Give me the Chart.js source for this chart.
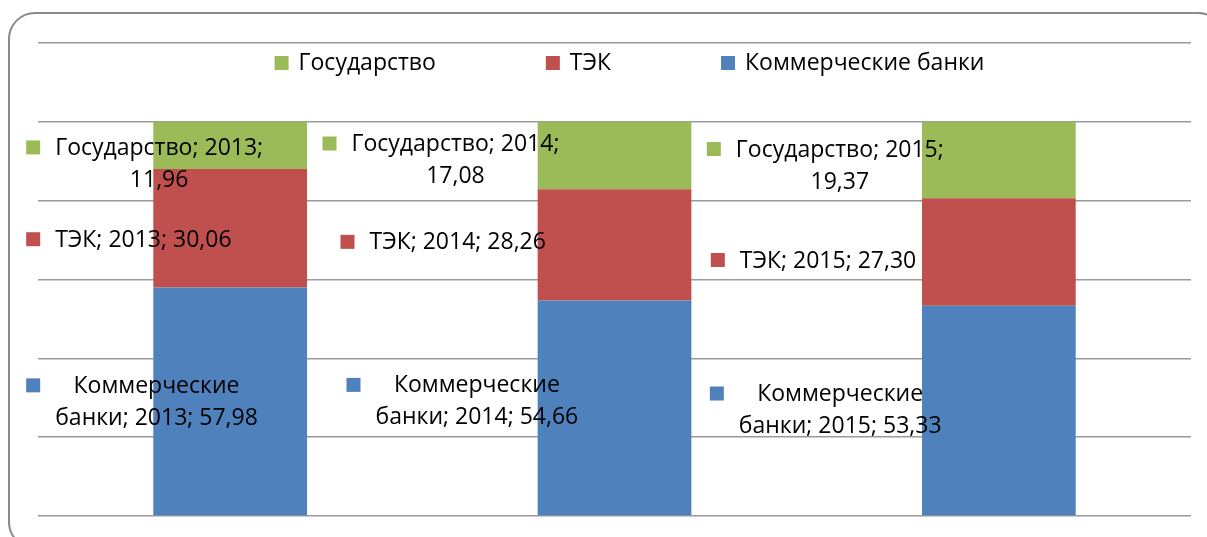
<!DOCTYPE html>
<html>
<head>
<meta charset="utf-8">
<script src="https://cdn.jsdelivr.net/npm/chart.js@4.4.0/dist/chart.umd.min.js"></script>
<style>
  body { margin: 0; background: #fff; }
  #wrap { width: 1207px; height: 537px; position: relative; }
</style>
</head>
<body>
<div id="wrap"><canvas id="mycanvas"></canvas></div>
<script>
var years = ["2013", "2014", "2015"];
var banks = [57.98, 54.66, 53.33];
var tek = [30.06, 28.26, 27.30];
var state = [11.96, 17.08, 19.37];

// where excel left the data labels: key box offset from bar centre / segment middle
var labelDx = [[-204, -268, -289], [-204, -274, -288], [-204, -292, -292]];
var labelDy = [[-16, -23, -17], [11, -3, 8], [2, -12, -11]];

var FONT = "23px 'Open Sans'";

function fmt(v) {
  return v.toFixed(2).replace(".", ",");
}

var frame = {
  id: "frame",
  beforeDraw: function(chart) {
    var c = chart.ctx;
    c.save();
    c.fillStyle = "#fff";
    c.fillRect(0, 0, chart.width, chart.height);
    c.strokeStyle = "#8a8a8a";
    c.lineWidth = 2;
    c.beginPath();
    c.roundRect(9, 13, 1215, 535, 26);
    c.stroke();
    c.restore();
  }
};

var labels = {
  id: "labels",
  afterDatasetsDraw: function(chart) {
    var c = chart.ctx;
    c.save();
    c.font = FONT;
    c.fillStyle = "#000";
    c.textBaseline = "middle";
    chart.data.datasets.forEach(function(ds, i) {
      var meta = chart.getDatasetMeta(i);
      meta.data.forEach(function(bar, j) {
        var lines;
        var txt = ds.label + "; " + years[j] + "; " + fmt(ds.data[j]);
        if (i == 0) lines = ["Коммерческие", "банки; " + years[j] + "; " + fmt(ds.data[j])];
        else if (i == 1) lines = [txt];
        else lines = [ds.label + "; " + years[j] + ";", fmt(ds.data[j])];
        var kx = bar.x + labelDx[i][j];
        var ky = (bar.y + bar.base) / 2 + labelDy[i][j];
        c.fillStyle = ds.backgroundColor;
        c.fillRect(kx, ky - 7, 14, 14);
        var w = 0;
        lines.forEach(function(l) { w = Math.max(w, c.measureText(l).width); });
        var cx = kx + 29 + w / 2;
        c.fillStyle = "#000";
        c.textAlign = "center";
        lines.forEach(function(l, k) {
          c.fillText(l, cx, ky + 1 + k * 32);
        });
      });
    });
    c.restore();
  }
};

var legend = {
  id: "mylegend",
  afterDraw: function(chart) {
    var c = chart.ctx;
    var ds = chart.data.datasets.slice().reverse();
    c.save();
    c.font = FONT;
    c.textBaseline = "middle";
    c.textAlign = "left";
    var gap = 110;
    var total = 0;
    ds.forEach(function(d, k) {
      total += 24 + c.measureText(d.label).width;
      if (k > 0) total += gap;
    });
    var a = chart.chartArea;
    var x = (a.left + a.right) / 2 + 15 - total / 2;
    var y = 63;
    ds.forEach(function(d) {
      c.fillStyle = d.backgroundColor;
      c.fillRect(x, y - 7, 14, 14);
      c.fillStyle = "#000";
      c.fillText(d.label, x + 24, y);
      x += 24 + c.measureText(d.label).width + gap;
    });
    c.restore();
  }
};

var chartdata = {
  labels: years,
  datasets: [
    { label: "Коммерческие банки", data: banks, backgroundColor: "#4F81BD" },
    { label: "ТЭК", data: tek, backgroundColor: "#C0504D" },
    { label: "Государство", data: state, backgroundColor: "#9BBB59" }
  ]
};

var ctx = document.getElementById("mycanvas");

var StackGraph = new Chart(ctx, {
  type: "bar",
  data: chartdata,
  options: {
    responsive: true,
    maintainAspectRatio: false,
    animation: false,
    layout: { padding: { left: 38, right: 16, top: 43, bottom: 21 } },
    datasets: { bar: { categoryPercentage: 0.4, barPercentage: 1 } },
    plugins: { legend: { display: false }, tooltip: { enabled: false } },
    scales: {
      x: { stacked: true, display: false },
      y: {
        stacked: true,
        min: 0,
        max: 120,
        ticks: { display: false, stepSize: 20 },
        grid: { color: "#9a9a9a", lineWidth: 1.5, drawTicks: false },
        border: { display: false }
      }
    }
  },
  plugins: [frame, labels, legend]
});
</script>
</body>
</html>
